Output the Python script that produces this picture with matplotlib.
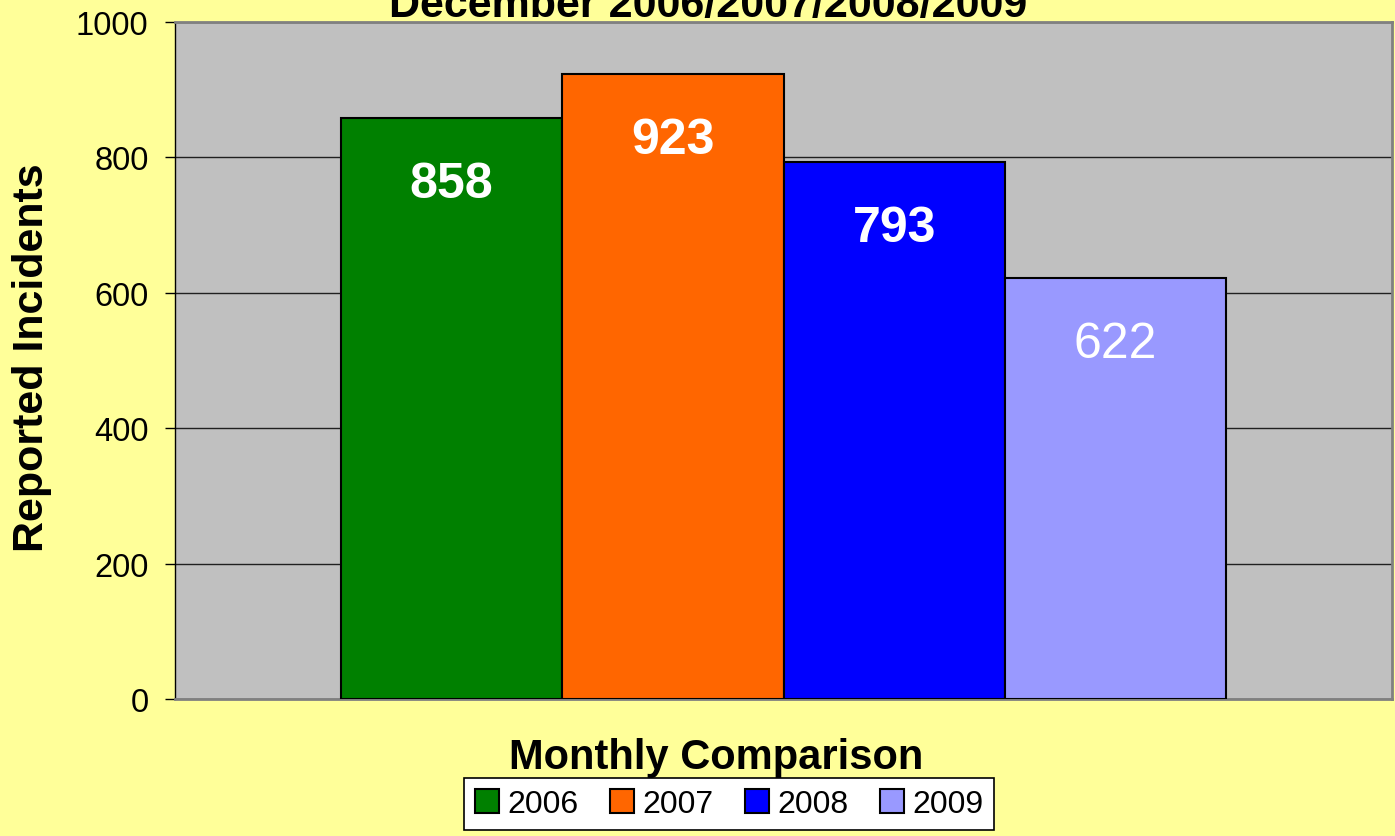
import matplotlib
matplotlib.use("Agg")
import matplotlib.pyplot as plt
from matplotlib.patches import Patch

plt.rcParams['font.family'] = ['Liberation Sans', 'DejaVu Sans']

years = ["2006", "2007", "2008", "2009"]
values = [858, 923, 793, 622]
colors = ["#008000", "#FF6600", "#0000FF", "#9999FF"]
label_bold = [True, True, True, False]
yticks = [0, 200, 400, 600, 800, 1000]
title = "December 2006/2007/2008/2009"
xlabel = "Monthly Comparison"
ylabel = "Reported Incidents"

W, H = 1395, 837
fig = plt.figure(figsize=(W / 100, H / 100), dpi=100, facecolor="#FFFF99")
ax = fig.add_axes([175 / W, 1 - 700 / H, (1392 - 175) / W, (700 - 23) / H])
ax.set_facecolor("#C0C0C0")

n = len(values)
pos = [i - (n - 1) / 2 for i in range(n)]
bars = ax.bar(pos, values, width=1.0, color=colors, edgecolor="black", linewidth=1.5, zorder=3)
ax.set_xlim(-2.75, 2.75)
ax.set_ylim(0, 1000)
ax.set_yticks(yticks)
ax.set_yticklabels([str(v) for v in yticks], fontsize=23.5)
ax.set_xticks([])
ax.yaxis.grid(True, color="#202020", linewidth=1.0, zorder=1)
ax.tick_params(axis="y", length=7, width=1, color="black", pad=12)

for s in ["top", "right", "bottom"]:
    ax.spines[s].set_color("#808080")
    ax.spines[s].set_linewidth(2)
ax.spines["left"].set_color("black")
ax.spines["left"].set_linewidth(1)

for b, v, bold in zip(bars, values, label_bold):
    ax.annotate(str(v), xy=(b.get_x() + b.get_width() / 2, v), xytext=(0, -66),
                textcoords="offset pixels", ha="center", va="center",
                fontsize=36, color="white", fontweight="bold" if bold else "normal", zorder=4)

fig.text(708 / W, 1 - 17 / H, title, ha="center", va="baseline", fontsize=31, fontweight="bold")
fig.text(716 / W, 1 - 758 / H, xlabel, ha="center", va="center", fontsize=30, fontweight="bold")
fig.text(32 / W, 1 - 358 / H, ylabel, ha="center", va="center", rotation=90, fontsize=31, fontweight="bold")

handles = [Patch(facecolor=c, edgecolor="black", linewidth=1.5) for c in colors]
leg = fig.legend(handles, years, loc="center", bbox_to_anchor=(729 / W, 1 - 805 / H), ncol=4,
                 fontsize=23, frameon=True, fancybox=False, edgecolor="black", facecolor="white",
                 framealpha=1, handlelength=0.75, handleheight=0.75, handletextpad=0.25,
                 columnspacing=1.0, borderpad=0.35)
leg.get_frame().set_linewidth(1.2)

fig.savefig("out.png", dpi=100, facecolor=fig.get_facecolor())
